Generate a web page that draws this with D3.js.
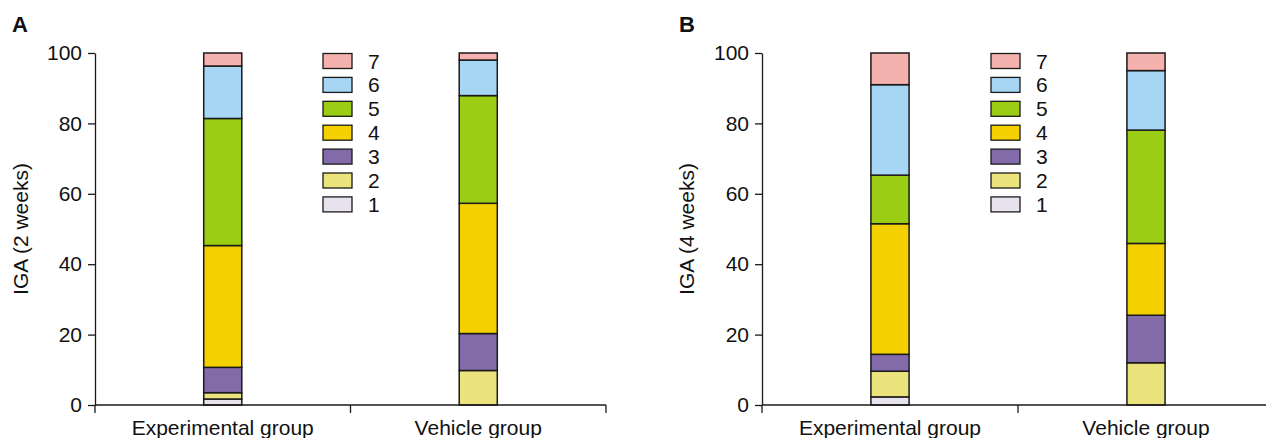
<!DOCTYPE html>
<html>
<head>
<meta charset="utf-8">
<script src="https://cdn.jsdelivr.net/npm/d3@7/dist/d3.min.js"></script>
<style>
  html, body { margin: 0; padding: 0; background: #fff; }
  svg { display: block; font-family: "Liberation Sans", Arial, sans-serif; }
</style>
</head>
<body>
<svg id="chart" width="1266" height="438"></svg>
<script>
// ---- Data ----
const categories = ["Experimental group", "Vehicle group"];
const scores = ["1", "2", "3", "4", "5", "6", "7"];
const colors = ["#e8e2ee", "#ebe37b", "#836ba9", "#f4d000", "#9acd14", "#a6d6f4", "#f4b1ae"];
const yTicks = [0, 20, 40, 60, 80, 100];

// percentages of each IGA score (1..7) per group
const week2Experimental = [1.7, 1.8, 7.2, 34.6, 36.1, 14.9, 3.7];
const week2Vehicle      = [0.0, 9.8, 10.5, 37.0, 30.6, 10.1, 2.0];
const week4Experimental = [2.3, 7.3, 4.8, 37.1, 13.8, 25.7, 9.0];
const week4Vehicle      = [0.0, 12.0, 13.5, 20.4, 32.2, 16.9, 5.0];

const panels = [
  { label: "A", yTitle: "IGA (2 weeks)", series: [week2Experimental, week2Vehicle],
    x0: 95, x1: 606, legendX: 323, yTitleX: 28 },
  { label: "B", yTitle: "IGA (4 weeks)", series: [week4Experimental, week4Vehicle],
    x0: 762, x1: 1274, legendX: 991, yTitleX: 694 }
];

const svg = d3.select("#chart");
const yTop = 53, yBottom = 405;
const fontSize = 21;
const ink = "#1a1a1a";

panels.forEach(p => {
  const g = svg.append("g");
  const x = d3.scaleBand().domain(categories).range([p.x0, p.x1]).padding(0);
  const y = d3.scaleLinear().domain([0, 100]).range([yBottom, yTop]);
  const barW = x.bandwidth() * 0.149;

  // bars
  p.series.forEach((vals, ci) => {
    let cum = 0;
    const cx = x(categories[ci]) + x.bandwidth() / 2;
    vals.forEach((v, si) => {
      const start = cum; cum += v;
      if (v <= 0) return;
      g.append("rect")
        .attr("x", cx - barW / 2)
        .attr("width", barW)
        .attr("y", y(cum))
        .attr("height", y(start) - y(cum))
        .attr("fill", colors[si])
        .attr("stroke", ink)
        .attr("stroke-width", 1.5);
    });
  });

  // y axis
  const yAxis = d3.axisLeft(y).tickValues(yTicks).tickSize(7).tickPadding(6).tickSizeOuter(0);
  const ya = g.append("g").attr("transform", `translate(${p.x0},0)`).call(yAxis);
  ya.selectAll("text").attr("font-size", fontSize).attr("fill", "#111")
    .attr("font-family", '"Liberation Sans", Arial, sans-serif');
  ya.selectAll("line, path").attr("stroke", ink).attr("stroke-width", 1.3);

  // x axis with ticks at category boundaries
  const xa = g.append("g").attr("transform", `translate(0,${yBottom})`);
  xa.append("line").attr("x1", p.x0).attr("x2", p.x1).attr("y1", 0).attr("y2", 0)
    .attr("stroke", ink).attr("stroke-width", 1.3);
  const bounds = categories.map(c => x(c)).concat([x(categories[categories.length - 1]) + x.bandwidth()]);
  xa.selectAll("line.tk").data(bounds).enter().append("line")
    .attr("class", "tk")
    .attr("x1", d => d).attr("x2", d => d).attr("y1", 0).attr("y2", 8)
    .attr("stroke", ink).attr("stroke-width", 1.3);
  xa.selectAll("text").data(categories).enter().append("text")
    .attr("x", d => x(d) + x.bandwidth() / 2)
    .attr("y", 30)
    .attr("text-anchor", "middle")
    .attr("font-size", fontSize)
    .attr("fill", "#111")
    .text(d => d);

  // y title
  g.append("text")
    .attr("transform", `translate(${p.yTitleX},229) rotate(-90)`)
    .attr("text-anchor", "middle")
    .attr("font-size", fontSize)
    .attr("fill", "#111")
    .text(p.yTitle);

  // panel label
  g.append("text")
    .attr("x", p.x0 - 83)
    .attr("y", 32)
    .attr("font-size", 22)
    .attr("font-weight", "bold")
    .attr("fill", "#111")
    .text(p.label);

  // legend (7 at top)
  const legendOrder = scores.map((s, i) => i).reverse();
  const lg = g.append("g");
  legendOrder.forEach((si, row) => {
    const cy = 61 + row * 23.9;
    lg.append("rect")
      .attr("x", p.legendX).attr("y", cy - 7.5)
      .attr("width", 29).attr("height", 15)
      .attr("fill", colors[si]).attr("stroke", ink).attr("stroke-width", 1.3);
    lg.append("text")
      .attr("x", p.legendX + 45).attr("y", cy + 7.5)
      .attr("font-size", fontSize).attr("fill", "#111")
      .text(scores[si]);
  });
});
</script>
</body>
</html>
